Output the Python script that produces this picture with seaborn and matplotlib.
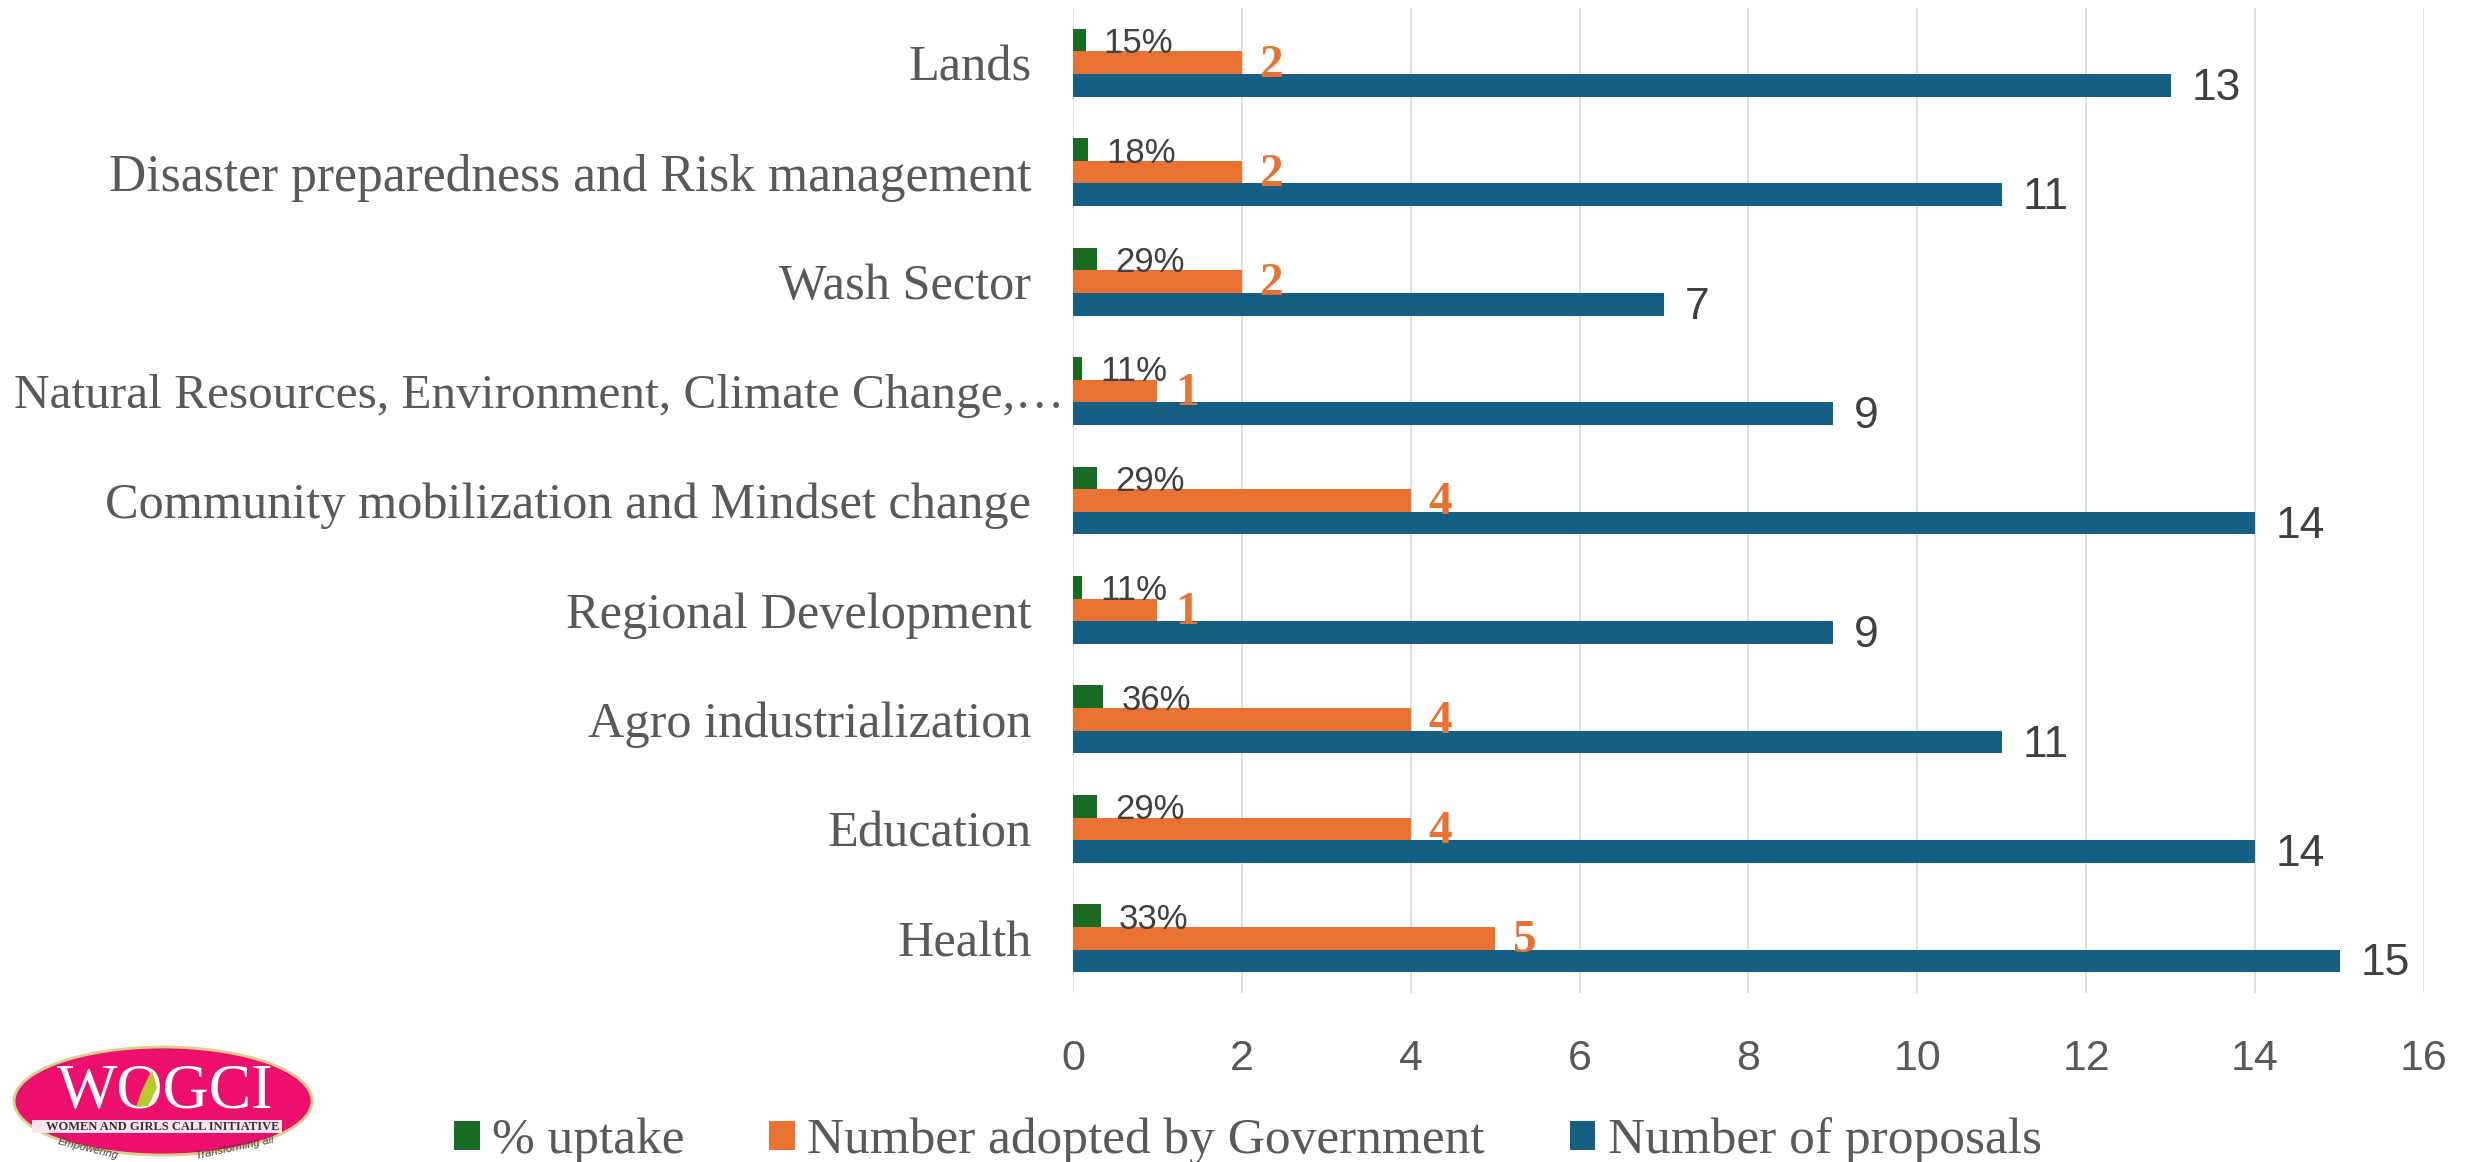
# -*- coding: utf-8 -*-
import numpy as np
import pandas as pd
import matplotlib
matplotlib.use("Agg")
import matplotlib.pyplot as plt
from matplotlib.patches import Ellipse, Rectangle, Polygon
import seaborn as sns

#%% Daten

sectors = ["Lands", "Disaster preparedness and Risk management", "Wash Sector",
           "Natural Resources, Environment, Climate Change,\u2026",
           "Community mobilization and Mindset change", "Regional Development",
           "Agro industrialization", "Education", "Health"]
uptake = [0.15, 0.18, 0.29, 0.11, 0.29, 0.11, 0.36, 0.29, 0.33]
adopted = [2, 2, 2, 1, 4, 1, 4, 4, 5]
proposals = [13, 11, 7, 9, 14, 9, 11, 14, 15]
series_names = ["% uptake", "Number adopted by Government", "Number of proposals"]
series_colors = ["#196B24", "#E97132", "#156082"]
x_ticks = [0, 2, 4, 6, 8, 10, 12, 14, 16]

df = pd.DataFrame({"sector": sectors * 3,
                   "series": np.repeat(series_names, len(sectors)),
                   "value": uptake + adopted + proposals})

#%% Figur

W, H = 2479, 1162
sns.set_style("white")
plt.rcParams['font.family'] = ['Liberation Serif', 'DejaVu Serif']

fig = plt.figure(figsize=(W/100, H/100), dpi=100)
ax = fig.add_axes([1073/W, 1-993/H, (2424-1073)/W, (993-8)/H])

sns.barplot(data=df, y="sector", x="value", hue="series", order=sectors,
            hue_order=series_names, palette=series_colors, saturation=1,
            width=0.62, gap=0, linewidth=0, legend=False, ax=ax, zorder=3)

ax.set_xlim(0, 16)
ax.set_xlabel("")
ax.set_ylabel("")
ax.set_xticks(x_ticks)
ax.grid(axis='x', color="#D9D9D9", linewidth=1.2, zorder=0)
ax.grid(axis='y', visible=False)
ax.set_axisbelow(True)
sns.despine(ax=ax, left=True, bottom=True, top=True, right=True)

ax.tick_params(axis='x', length=0, pad=33)
ax.tick_params(axis='y', length=0, pad=30)
for lab in ax.get_xticklabels():
    lab.set_family(['Liberation Sans'])
    lab.set_fontsize(31)
    lab.set_color("#595959")
for lab in ax.get_yticklabels():
    lab.set_fontsize(36.3)
    lab.set_color("#595959")
# abgeschnittenes Label steht weiter rechts
ax.yaxis.get_major_ticks()[3].set_pad(6)
ax.get_yticklabels()[3].set_fontsize(35.5)
ax.get_yticklabels()[1].set_fontsize(37.2)

#%% Datenbeschriftung

def label_bars(container, labels, pad, drop, **kw):
    anns = ax.bar_label(container, labels=labels, padding=pad, **kw)
    for a in anns:
        a.xyann = (pad, -drop)

label_bars(ax.containers[0], [f"{v:.0%}" for v in uptake], 13, 2.5,
           fontsize=25, family=['Liberation Sans'], color="#404040")
label_bars(ax.containers[1], [str(v) for v in adopted], 13, 2,
           fontsize=34, fontweight='bold', color="#E97132")
label_bars(ax.containers[2], [str(v) for v in proposals], 15, 2.2,
           fontsize=32, family=['Liberation Sans'], color="#404040")

#%% Legende

handles = [Rectangle((0, 0), 1, 1, color=c, linewidth=0) for c in series_colors]
fig.legend(handles, series_names, ncol=3, frameon=False, fontsize=37,
           labelcolor="#595959", loc='center left',
           bbox_to_anchor=(454/W, 1-1141/H), borderaxespad=0, borderpad=0,
           handlelength=0.5, handleheight=0.5, handletextpad=0.24, columnspacing=1.65)

#%% Logo (Pixelkoordinaten)

logo = fig.add_axes([0, 0, 1, 1], facecolor='none')
logo.set_xlim(0, W)
logo.set_ylim(H, 0)
logo.axis('off')
logo.add_patch(Ellipse((163, 1101), 298, 108, facecolor="#EC0F6C", edgecolor="#D9D08C", linewidth=2))
logo.add_patch(Rectangle((32, 1120), 250, 13, facecolor="#FBE3EE", linewidth=0))
logo.text(165, 1092, "WOGCI", color="white", fontsize=46, ha='center', va='center')
logo.text(163, 1127, "WOMEN AND GIRLS CALL INITIATIVE", color="#333333", fontsize=9,
          ha='center', va='center', fontweight='bold')
logo.add_patch(Polygon([(136, 1107), (142, 1090), (152, 1070), (157, 1088), (148, 1106)],
                       facecolor="#B8C92F", linewidth=0, zorder=5))
logo.text(88, 1149, "Empowering", color="#444444", fontsize=8, rotation=-14,
          ha='center', va='center', style='italic', family=['Liberation Sans'])
logo.text(235, 1148, "Transforming all", color="#444444", fontsize=8, rotation=12,
          ha='center', va='center', style='italic', family=['Liberation Sans'])

fig.savefig("out.png", dpi=100)
